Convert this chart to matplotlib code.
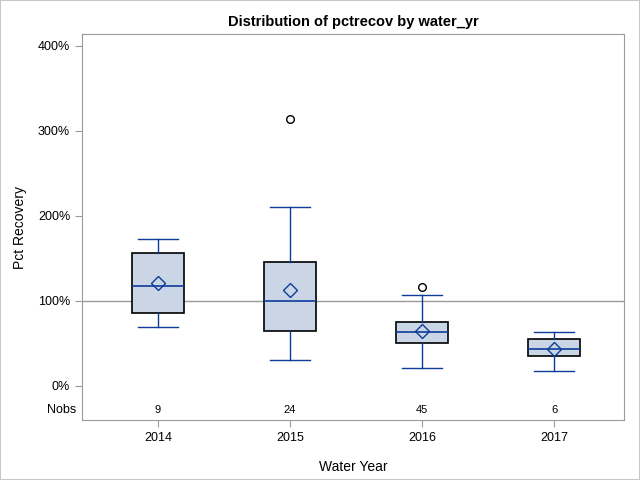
import matplotlib
matplotlib.use("Agg")
import matplotlib.pyplot as plt
from matplotlib.patches import Rectangle
from matplotlib.ticker import FuncFormatter

plt.rcParams['font.family'] = ['Liberation Sans', 'DejaVu Sans']

years = ["2014", "2015", "2016", "2017"]
nobs = [9, 24, 45, 6]
whislo = [69.4, 30.6, 20.8, 17.3]
q1 = [85.9, 64.7, 50.2, 35.7]
med = [117.6, 100.0, 63.1, 43.1]
q3 = [156.5, 145.9, 75.3, 54.9]
whishi = [172.9, 210.6, 106.7, 63.1]
means = [121.0, 113.0, 64.7, 43.9]
outliers = [[], [314.0], [116.0], []]

fill = "#cad5e5"
blue = "#0d3d99"
gray = "#9a9a9a"

stats = []
for i in range(len(years)):
    stats.append(dict(label=years[i], whislo=whislo[i], q1=q1[i], med=med[i],
                      q3=q3[i], whishi=whishi[i], mean=means[i], fliers=outliers[i]))

fig = plt.figure(figsize=(6.4, 4.8), dpi=100)
ax = fig.add_axes([0.128, 0.125, 0.847, 0.804])

ax.axhline(100, color=gray, lw=1, zorder=1)

pos = [1, 2, 3, 4]
ax.bxp(stats, positions=pos, widths=0.4, showmeans=True, patch_artist=True,
       boxprops=dict(facecolor=fill, edgecolor="black", lw=1.2),
       medianprops=dict(color=blue, lw=1.2),
       whiskerprops=dict(color=blue, lw=1),
       capprops=dict(color=blue, lw=1),
       capwidths=0.3,
       meanprops=dict(marker="D", markerfacecolor="none", markeredgecolor=blue,
                      markersize=7, markeredgewidth=1),
       flierprops=dict(marker="o", markerfacecolor="none", markeredgecolor="black",
                       markersize=5.5, markeredgewidth=1),
       zorder=3)

ax.set_xlim(0.424, 4.53)
ax.set_ylim(-40, 414)
ax.set_yticks([0, 100, 200, 300, 400])
ax.yaxis.set_major_formatter(FuncFormatter(lambda v, p: f"{v:.0f}%"))
ax.set_xticks(pos)
ax.set_xticklabels(years)
ax.tick_params(colors=gray, labelcolor="black", labelsize=9, length=5)

for s in ax.spines.values():
    s.set_color(gray)

for i in range(len(years)):
    ax.text(pos[i], -28, str(nobs[i]), ha="center", va="center", fontsize=8)
ax.text(-0.01, -28, "Nobs", ha="right", va="center", fontsize=9,
        transform=ax.get_yaxis_transform())

ax.set_ylabel("Pct Recovery", fontsize=10, labelpad=8)
ax.set_xlabel("Water Year", fontsize=10, labelpad=12)
ax.set_title("Distribution of pctrecov by water_yr", fontsize=10.5, fontweight="bold", pad=6)

fig.patches.append(Rectangle((0, 0), 1, 1, transform=fig.transFigure, fill=False,
                             edgecolor="#c8c8c8", lw=1.5))

fig.savefig("out.png", dpi=100)
